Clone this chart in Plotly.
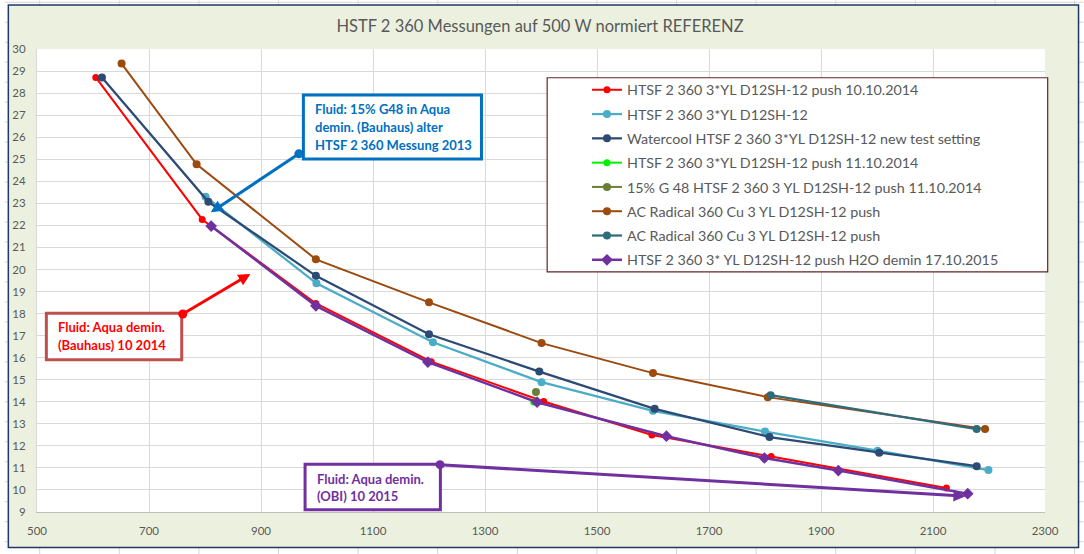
import plotly.graph_objects as go

# ---------------- data ----------------
red_x = [605, 795, 998, 1204, 1405, 1598, 1811, 2124]
red_y = [28.71, 22.27, 18.46, 15.82, 14.01, 12.49, 11.52, 10.09]

lblue_x = [801, 999, 1207, 1401, 1600, 1800, 2001, 2199]
lblue_y = [23.30, 19.37, 16.70, 14.89, 13.59, 12.65, 11.78, 10.90]

navy_x = [616, 806, 998, 1200, 1397, 1603, 1808, 2004, 2178]
navy_y = [28.71, 23.07, 19.71, 17.06, 15.37, 13.68, 12.40, 11.69, 11.08]

green_x = [1387]
green_y = [13.99]

olive_x = [1391]
olive_y = [14.44]

brown_x = [651, 785, 998, 1200, 1401, 1600, 1805, 2193]
brown_y = [29.34, 24.77, 20.46, 18.51, 16.66, 15.30, 14.21, 12.76]

teal_x = [1810, 2178]
teal_y = [14.30, 12.76]

purple_x = [811, 998, 1198, 1393, 1624, 1799, 1931, 2162]
purple_y = [21.97, 18.35, 15.80, 13.98, 12.44, 11.45, 10.88, 9.83]

names = [
    "HTSF 2 360 3*YL D12SH-12 push 10.10.2014",
    "HTSF 2 360 3*YL D12SH-12",
    "Watercool HTSF 2 360 3*YL D12SH-12 new test setting",
    "HTSF 2 360 3*YL D12SH-12 push 11.10.2014",
    "15% G 48 HTSF 2 360 3 YL D12SH-12 push 11.10.2014",
    "AC Radical 360 Cu 3 YL D12SH-12 push",
    "AC Radical 360 Cu 3 YL D12SH-12 push",
    "HTSF 2 360 3* YL D12SH-12 push H2O demin 17.10.2015",
]

title_text = "HSTF 2 360 Messungen auf 500 W normiert REFERENZ"
x_ticks = [500, 700, 900, 1100, 1300, 1500, 1700, 1900, 2100, 2300]
y_ticks = list(range(9, 31))

# ---------------- styling ----------------
W, H = 1084, 554
PL, PR, PT, PB = 32.3, 1045.3, 48.5, 512.0
FONT = "Lato"
GREY = "#595959"

series = [
    (red_x, red_y, "#FF0000", 2.0, "circle", 7),
    (lblue_x, lblue_y, "#4BACC6", 2.25, "circle", 8),
    (navy_x, navy_y, "#2C4A74", 2.25, "circle", 8),
    (green_x, green_y, "#00F000", 2.0, "circle", 7),
    (olive_x, olive_y, "#6A7F35", 2.0, "circle", 8),
    (brown_x, brown_y, "#9C4A0E", 2.0, "circle", 8),
    (teal_x, teal_y, "#2E6B7B", 2.25, "circle", 8),
    (purple_x, purple_y, "#7030A0", 2.5, "diamond", 9),
]

fig = go.Figure()
for i, (xs, ys, col, lw, sym, ms) in enumerate(series):
    fig.add_trace(go.Scatter(
        x=xs, y=ys, name=names[i], mode="lines+markers",
        line=dict(color=col, width=lw),
        marker=dict(color=col, size=ms, symbol=sym),
        legendgroup="g%d" % i,
    ))


def pxx(px):
    return (px - PL) / (PR - PL)


def pxy(py):
    return (PB - py) / (PB - PT)


shapes = []
# spreadsheet cell grid behind the chart
for k in range(0, 15):
    gx = 35 + 80 * k
    shapes.append(dict(type="line", xref="paper", yref="paper", x0=pxx(gx), x1=pxx(gx),
                       y0=pxy(0), y1=pxy(H), line=dict(color="#D4D4D4", width=1), layer="below"))
for k in range(0, 29):
    gy = 1.7 + 20 * k
    shapes.append(dict(type="line", xref="paper", yref="paper", x0=pxx(0), x1=pxx(W),
                       y0=pxy(gy), y1=pxy(gy), line=dict(color="#D4D4D4", width=1), layer="below"))
# chart area
shapes.append(dict(type="rect", xref="paper", yref="paper", x0=pxx(3.5), x1=pxx(1079),
                   y0=pxy(547.5), y1=pxy(4.5), fillcolor="#EBF1DE",
                   line=dict(color="#1F3864", width=1.5), layer="below"))
# plot area (white)
shapes.append(dict(type="rect", xref="paper", yref="paper", x0=0, x1=1, y0=0, y1=1,
                   fillcolor="white", line=dict(width=0), layer="below"))
# legend box
shapes.append(dict(type="rect", xref="paper", yref="paper", x0=pxx(545), x1=pxx(1048),
                   y0=pxy(271.7), y1=pxy(77.3), fillcolor="white",
                   line=dict(color="#632523", width=1.2), layer="above"))
# callout boxes (data coords)
boxes = [
    (975.7, 1293.7, 25.01, 27.91, "#0070C0"),
    (516.7, 758.4, 15.90, 18.02, "#C0504D"),
    (978.7, 1220.3, 9.10, 11.17, "#7030A0"),
]
for x0, x1, y0, y1, col in boxes:
    shapes.append(dict(type="rect", xref="x", yref="y", x0=x0, x1=x1, y0=y0, y1=y1,
                       fillcolor="white", line=dict(color=col, width=3), layer="above"))

annotations = []
callout_lines = [
    ("#0070C0", 993.5, [(27.29, "Fluid: 15% G48 in Aqua"),
                        (26.47, "demin. (Bauhaus) alter"),
                        (25.65, "HTSF 2 360 Messung 2013")]),
    ("#FF0000", 534.5, [(17.38, "Fluid: Aqua demin."),
                        (16.58, "(Bauhaus) 10 2014")]),
    ("#7030A0", 996.5, [(10.51, "Fluid: Aqua demin."),
                        (9.71, "(OBI) 10 2015")]),
]
for col, lx, lines in callout_lines:
    for ly, txt in lines:
        annotations.append(dict(x=lx, y=ly, xref="x", yref="y", text="<b>%s</b>" % txt,
                                showarrow=False, xanchor="left", yanchor="middle",
                                font=dict(family=FONT, size=13, color=col)))

arrows = [
    ("#0070C0", 970.3, 25.29, 810.4, 22.59),
    ("#FF0000", 757.6, 17.94, 881.0, 19.80),
    ("#7030A0", 1217.0, 11.15, 2158.0, 9.72),
]
for col, sx, sy, ex, ey in arrows:
    annotations.append(dict(x=ex, y=ey, ax=sx, ay=sy, xref="x", yref="y", axref="x", ayref="y",
                            text="", showarrow=True, arrowcolor=col, arrowwidth=3,
                            arrowhead=2, arrowsize=0.8, arrowside="end+start",
                            startarrowhead=6, startarrowsize=0.75, standoff=0, startstandoff=0))

fig.update_layout(
    width=W, height=H, autosize=False,
    margin=dict(l=PL, r=W - PR, t=PT, b=H - PB, pad=0),
    paper_bgcolor="white", plot_bgcolor="white",
    title=dict(text=title_text, x=540 / W, xanchor="center", xref="container",
               y=1 - 26 / H, yanchor="middle", yref="container",
               font=dict(family=FONT, size=16.5, color=GREY)),
    font=dict(family=FONT, color=GREY),
    showlegend=True,
    legend=dict(x=pxx(585), y=pxy(73.5), xanchor="left", yanchor="top",
                bgcolor="rgba(0,0,0,0)", borderwidth=0, tracegroupgap=2.7,
                font=dict(family=FONT, size=14.3, color=GREY)),
    xaxis=dict(range=[500, 2300], tickvals=x_ticks, showgrid=True, gridcolor="#D9D9D9",
               gridwidth=1, zeroline=False, showline=True, linecolor="#BFBFBF",
               linewidth=1, mirror=False, ticks="", tickfont=dict(family=FONT, size=11.5, color=GREY),
               ticklabelstandoff=8),
    yaxis=dict(range=[9, 30], tickvals=y_ticks, showgrid=True, gridcolor="#D9D9D9",
               gridwidth=1, zeroline=False, showline=True, linecolor="#D9D9D9",
               linewidth=1, ticks="", tickfont=dict(family=FONT, size=11.5, color=GREY),
               ticklabelstandoff=8),
    shapes=shapes,
    annotations=annotations,
)

fig.write_html("out.html", config={"displayModeBar": False},
               post_script="document.body.style.margin='0';document.body.style.overflow='hidden';")
